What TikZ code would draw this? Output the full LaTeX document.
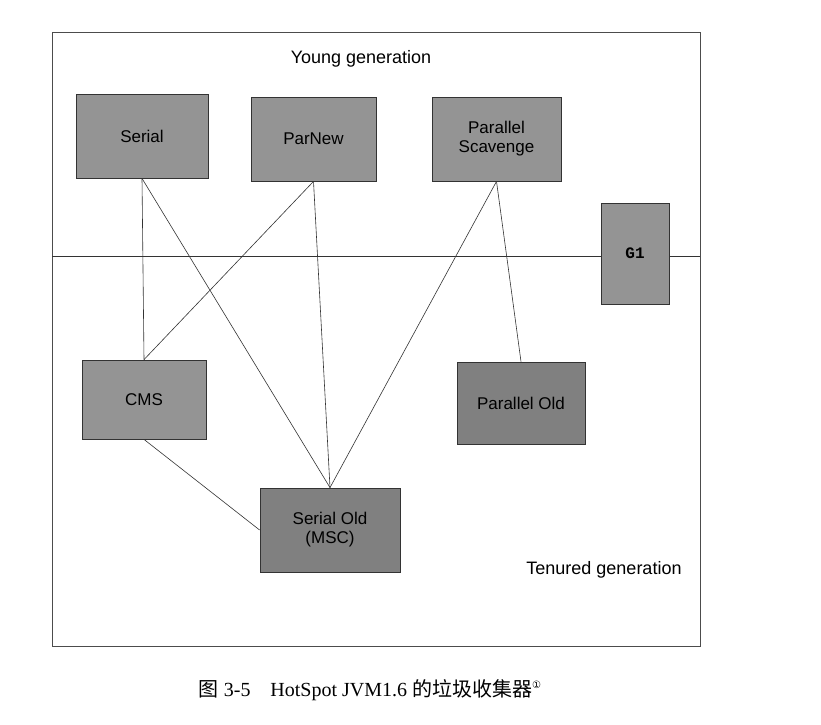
\documentclass[tikz,border=0pt]{standalone}
\usepackage{fontspec}
\setmainfont{Liberation Serif}
\setsansfont{Liberation Sans}
\setmonofont{Liberation Mono}
\newfontfamily\cjk{Noto Sans CJK SC}
\newfontfamily\dejavufont{DejaVu Sans}
\begin{document}
\begin{tikzpicture}[x=1pt,y=-1pt,
  gc/.style={draw=black!80,fill=black!42,line width=0.8pt,font=\sffamily\fontsize{17}{19}\selectfont,align=center,inner sep=0pt},
  conn/.style={line width=0.6pt,black!80}]
\useasboundingbox (0,0) rectangle (821,724);
\fill[white] (0,0) rectangle (821,724);
\draw[black!70,line width=0.8pt] (52,32) rectangle (700,646);
\coordinate (hl) at (52,256);
\coordinate (hr) at (700,256);
\draw[conn] (hl) -- (hr);
\node[gc,minimum width=132,minimum height=84] (serial) at (142,136) {Serial};
\node[gc,minimum width=125,minimum height=84] (parnew) at (313.5,139) {ParNew};
\node[gc,minimum width=129,minimum height=84] (ps) at (496.5,139) {Parallel\\Scavenge};
\node[gc,minimum width=68,minimum height=101,font=\ttfamily\bfseries\fontsize{16}{18}\selectfont] (g1) at (635,253.5) {G1};
\node[gc,minimum width=124,minimum height=79] (cms) at (144,399.5) {CMS};
\node[gc,fill=black!50,minimum width=128,minimum height=82] (po) at (521,403) {Parallel Old};
\node[gc,fill=black!50,minimum width=140,minimum height=84] (so) at (330,530) {Serial Old\\(MSC)};
\node[font=\sffamily\fontsize{18}{20}\selectfont] (yg) at (361,59) {Young generation};
\node[font=\sffamily\fontsize{18}{20}\selectfont] (tg) at (604,570) {Tenured generation};
\draw[conn] (serial.south) -- (cms.north);
\draw[conn] (serial.south) -- (so.north);
\draw[conn] (parnew.south) -- (cms.north);
\draw[conn] (parnew.south) -- (so.north);
\draw[conn] (ps.south) -- (so.north);
\draw[conn] (ps.south) -- (po.north);
\draw[conn] (cms.south) -- (so.west);
\node[font=\fontsize{20}{22}\selectfont] (cap) at (370,690) {{\cjk 图} 3-5\quad HotSpot JVM1.6 {\cjk 的垃圾收集器}\raisebox{8pt}{\dejavufont\fontsize{10}{10}\selectfont ①}};
\end{tikzpicture}
\end{document}
